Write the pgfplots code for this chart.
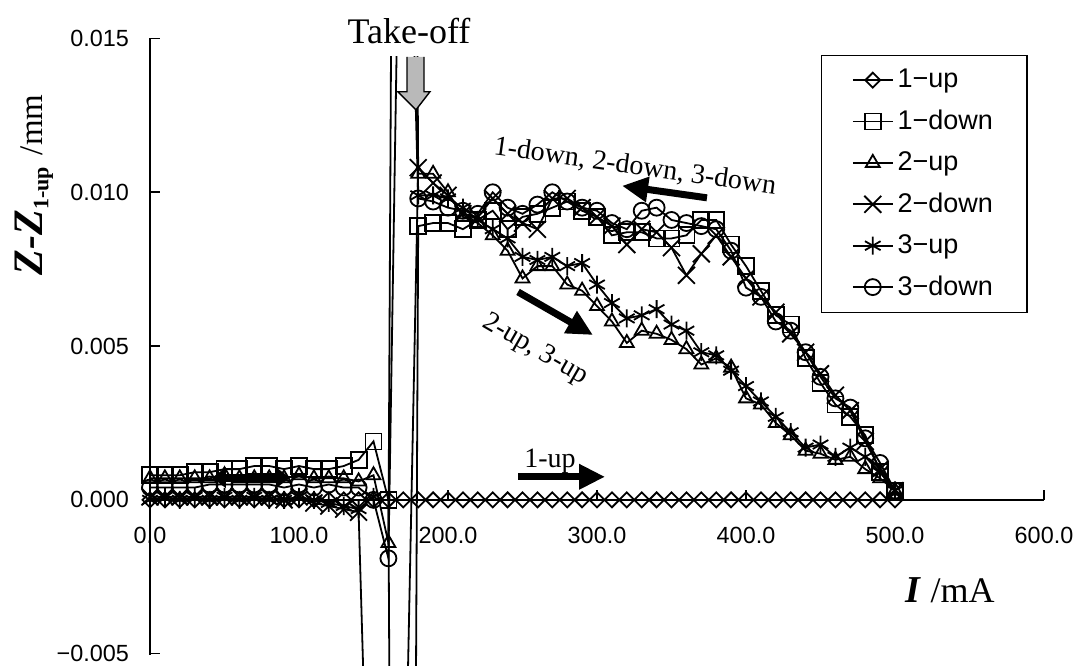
\documentclass[border=0pt]{standalone}
\usepackage{fontspec}
\setmainfont{Liberation Serif}
\setsansfont{Liberation Sans}
\usepackage{pgfplots}
\usepackage{pgfplotstable}
\pgfplotsset{compat=1.18}
\usetikzlibrary{arrows.meta}

% Z - Z(1-up) in mm against coil current I in mA, six sweeps
\pgfplotstableread{
I    oneup onedown twoup   twodown threeup threedown
0    0     0.0008  0.0007  0.0001  0.0000  0.0004
10   0     0.0008  0.0007  0.0001  0.0001  0.0004
20   0     0.0008  0.0007  0.0001  0.0000  0.0004
30   0     0.0009  0.0007  0.0001  0.0001  0.0004
40   0     0.0009  0.0007  0.0001  0.0000  0.0005
50   0     0.0010  0.0008  0.0001  0.0001  0.0005
60   0     0.0010  0.0007  0.0001  0.0000  0.0005
70   0     0.0011  0.0007  0.0001  0.0001  0.0005
80   0     0.0011  0.0007  0.0001  0.0000  0.0005
90   0     0.0010  0.0007  0.0000  0.0000  0.0004
100  0     0.0011  0.0008  0.0001  0.0001  0.0005
110  0     0.0010  0.0007  -0.0001 0.0000  0.0004
120  0     0.0010  0.0007  -0.0002 -0.0001 0.0005
130  0     0.0011  0.0007  -0.0003 -0.0002 0.0004
140  0     0.0013  0.0006  -0.0004 -0.0003 0.0004
150  0     0.0019  0.0008  -0.0170 0.0001  0.0000
160  0     0.0000  -0.0014 -0.0220 nan     -0.0019
170  0     -0.0900 0.0900  -0.0130 nan     0.0280
180  0     0.0089  0.0106  0.0108  0.0099  0.0098
190  0     0.0090  0.0106  0.0103  0.0099  0.0097
200  0     0.0090  0.0100  0.0099  0.0098  0.0095
210  0     0.0088  0.0092  0.0093  0.0095  0.0094
220  0     0.0091  0.0090  0.0092  0.0091  0.0093
230  0     0.0094  0.0086  0.0098  0.0088  0.0100
240  0     0.0088  0.0081  0.0093  0.0085  0.0095
250  0     0.0092  0.0072  0.0090  0.0079  0.0093
260  0     0.0093  0.0076  0.0088  0.0078  0.0096
270  0     0.0095  0.0076  0.0098  0.0079  0.0100
280  0     0.0097  0.0070  0.0098  0.0076  0.0097
290  0     0.0094  0.0068  0.0095  0.0077  0.0095
300  0     0.0092  0.0063  0.0092  0.0070  0.0094
310  0     0.0086  0.0058  0.0089  0.0064  0.0090
320  0     0.0087  0.0051  0.0083  0.0059  0.0088
330  0     0.0087  0.0055  0.0088  0.0060  0.0094
340  0     0.0085  0.0054  0.0087  0.0062  0.0095
350  0     0.0085  0.0052  0.0082  0.0057  0.0091
360  0     0.0086  0.0049  0.0073  0.0055  0.0090
370  0     0.0091  0.0044  0.0080  0.0048  0.0089
380  0     0.0091  0.0046  0.0086  0.0047  0.0088
390  0     0.0083  0.0043  0.0079  0.0042  0.0081
400  0     0.0076  0.0033  0.0072  0.0037  0.0069
410  0     0.0068  0.0031  0.0066  0.0032  0.0066
420  0     0.0060  0.0025  0.0061  0.0027  0.0058
430  0     0.0057  0.0021  0.0054  0.0022  0.0055
440  0     0.0046  0.0016  0.0048  0.0017  0.0048
450  0     0.0038  0.0015  0.0041  0.0018  0.0040
460  0     0.0031  0.0013  0.0034  0.0014  0.0033
470  0     0.0027  0.0014  0.0029  0.0017  0.0030
480  0     0.0021  0.0010  0.0019  0.0014  0.0020
490  0     0.0009  0.0007  0.0010  0.0009  0.0012
500  0     0.0003  0.0003  0.0003  0.0003  0.0003
}\zdata

\begin{document}
\begin{tikzpicture}
\begin{axis}[
  scale only axis, width=447pt, height=304.5pt,
  xmin=0, xmax=600, ymin=-0.0054, ymax=0.0144,
  axis x line=middle, axis y line=left,
  axis line style={-, line width=0.8pt},
  y axis line style={shorten <=5.5pt, shorten >=-9.25pt},
  hide obscured x ticks=false, hide obscured y ticks=false,
  scaled y ticks=false, scaled x ticks=false,
  xtick={0,100,200,300,400,500,600},
  xticklabels={0.0,100.0,200.0,300.0,400.0,500.0,600.0},
  ytick={-0.005,0,0.005,0.01},
  yticklabels={−0.005,0.000,0.005,0.010},
  tick align=inside, major tick length=5pt,
  tick style={line width=0.8pt, black},
  ticklabel style={font=\sffamily\fontsize{11.7}{12}\selectfont},
  xticklabel style={yshift=-10pt},
  yticklabel style={xshift=-7pt},
  unbounded coords=jump,
  every axis plot/.append style={black, line width=0.9pt},
  xlabel={{\fontsize{19}{20}\selectfont\bfseries\itshape I}\hspace{0.5em}{\fontsize{18}{20}\selectfont /mA}},
  ylabel={{\fontsize{21}{22}\selectfont\bfseries\itshape Z-Z}\raisebox{-0.3em}{\fontsize{11}{12}\selectfont\bfseries 1-up}\hspace{0.6em}{\fontsize{16.5}{18}\selectfont /mm}},
  every axis x label/.style={at={(axis description cs:0.895,0.1248)}, anchor=center},
  every axis y label/.style={at={(axis description cs:-0.1298,0.790)}, anchor=center, rotate=90},
  legend style={at={(axis cs:589,0.01447)}, anchor=north east, draw=black, line width=0.6pt,
    font=\sffamily\fontsize{13.5}{14}\selectfont, row sep=5.6pt, inner xsep=15pt, inner ysep=5pt},
  legend cell align=left,
  legend image code/.code={\draw[mark repeat=2,mark phase=2,#1] plot coordinates {(0pt,0pt) (10pt,0pt) (20pt,0pt)};},
]
\addplot[mark=square, mark size=2.65pt, mark options={rotate=45}] table[x=I,y=oneup] {\zdata};
\addlegendentry{1−up}
\addplot[mark=square, mark size=4pt] table[x=I,y=onedown] {\zdata};
\addlegendentry{1−down}
\addplot[mark=triangle, mark size=4pt] table[x=I,y=twoup] {\zdata};
\addlegendentry{2−up}
\addplot[mark=x, mark size=6pt] table[x=I,y=twodown] {\zdata};
\addlegendentry{2−down}
\addplot[mark=asterisk, mark size=4.5pt] table[x=I,y=threeup] {\zdata};
\addlegendentry{3−up}
\addplot[mark=o, mark size=4pt] table[x=I,y=threedown] {\zdata};
\addlegendentry{3−down}

% take-off marker
\fill[gray!55] (axis cs:172.5,0.0144) -- (axis cs:172.5,0.01327) -- (axis cs:166.4,0.01327) -- (axis cs:178.5,0.01268)
  -- (axis cs:187.9,0.01327) -- (axis cs:183.9,0.01327) -- (axis cs:183.9,0.0144) -- cycle;
\draw[line width=0.7pt, line join=miter] (axis cs:172.5,0.0144) -- (axis cs:172.5,0.01327) -- (axis cs:166.4,0.01327) -- (axis cs:178.5,0.01268)
  -- (axis cs:187.9,0.01327) -- (axis cs:183.9,0.01327) -- (axis cs:183.9,0.0144);

% sweep directions
\node[font=\fontsize{14}{16}\selectfont, rotate=-8] at (axis cs:325.5,0.01083) {1-down, 2-down, 3-down};
\draw[line width=3.5pt, -{Triangle[length=13pt,width=12pt]}] (axis cs:373.8,0.00982) -- (axis cs:316.8,0.01021);
\node[font=\fontsize{14}{16}\selectfont, rotate=-30] at (axis cs:258.4,0.00488) {2-up, 3-up};
\draw[line width=3.5pt, -{Triangle[length=13pt,width=12pt]}] (axis cs:247,0.00676) -- (axis cs:297.3,0.00536);
\node[font=\fontsize{14}{16}\selectfont] at (axis cs:268.5,0.00124) {1-up};
\draw[line width=3.5pt, -{Triangle[length=13pt,width=12pt]}] (axis cs:247,0.00075) -- (axis cs:305.4,0.00075);
\draw[line width=4pt, {Triangle[length=7pt,width=10pt]}-{Triangle[length=7pt,width=10pt]}] (axis cs:41.6,0.00072) -- (axis cs:94,0.00072);

\coordinate (SW) at (rel axis cs:0,0);
\coordinate (NE) at (rel axis cs:1,1);
\coordinate (Y15) at (axis cs:0,0.015);
\coordinate (TK) at (axis cs:173.8,0.01525);
\end{axis}
% parts above the plot area
\draw[line width=0.8pt] (Y15) -- ++(5pt,0);
\node[anchor=east, xshift=-7pt, inner sep=0.3333em, font=\sffamily\fontsize{11.7}{12}\selectfont] at (Y15) {0.015};
\node[font=\fontsize{18}{20}\selectfont] at (TK) {Take-off};
\pgfresetboundingbox
\path[use as bounding box] ([xshift=-75pt]SW) rectangle ([xshift=17pt,yshift=28.5pt]NE);
\end{tikzpicture}
\end{document}
